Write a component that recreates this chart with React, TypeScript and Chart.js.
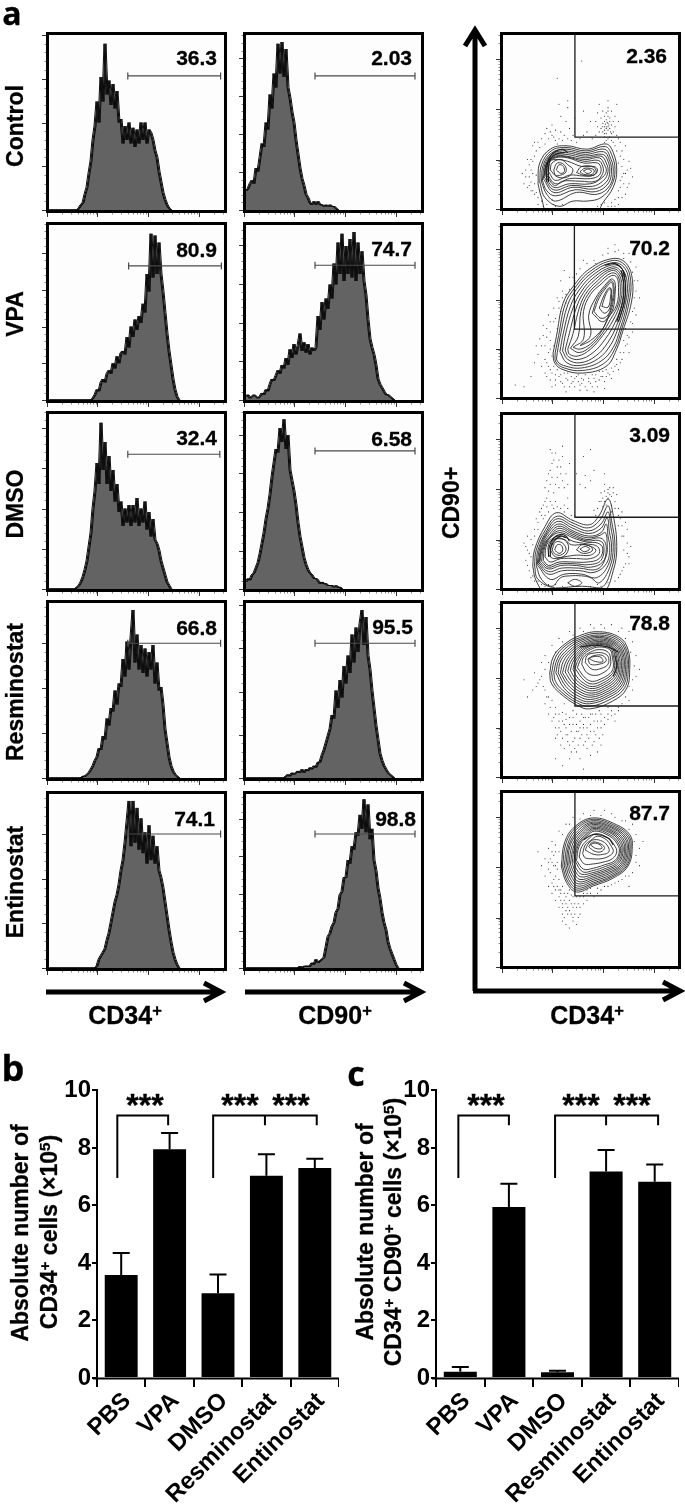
import React, { useEffect, useRef } from "react";
import { Chart, registerables } from "chart.js";

Chart.register(...registerables);
Chart.defaults.font.family = "'Liberation Sans', Arial, sans-serif";

// ---- Panel b / c values ----
const treatments = ["PBS", "VPA", "DMSO", "Resminostat", "Entinostat"];
const cd34Means = [3.58, 7.95, 2.95, 7.03, 7.3];
const cd34Upper = [4.35, 8.52, 3.6, 7.78, 7.62];
const doubleMeans = [0.22, 5.95, 0.2, 7.18, 6.82];
const doubleUpper = [0.38, 6.75, 0.25, 7.93, 7.42];
const yTicks = [0, 2, 4, 6, 8, 10];

// ---- Panel a histograms: percent of panel height per bin ----
const controlCd34 = [0,0,0,0,0,0,0,0,0,0,0,0,0,0,0,1,3,4,9,13,21,28,40,48,62,50,76,62,95,66,74,60,72,58,68,50,52,38,48,40,50,38,47,36,46,38,50,40,50,38,46,44,40,34,30,22,16,10,6,3,1,0];
const controlCd90 = [11,12,15,17,15,24,22,30,38,36,50,46,66,58,78,70,95,78,96,76,92,70,64,56,50,40,32,24,18,14,9,7,4,3,5,3,5,3,3,2,3,2,3,2,2,1,0];
const vpaCd34 = [0,0,0,0,0,0,0,0,0,0,0,0,0,0,0,0,0,0,0,0,0,0,1,3,6,5,10,12,10,15,17,15,21,18,25,21,27,28,26,36,30,42,36,46,40,48,44,55,50,72,62,95,70,94,72,90,72,62,50,38,28,20,12,6,2,0];
const vpaCd90 = [2,3,1,2,3,2,1,2,4,3,6,5,9,12,11,14,17,15,20,18,24,20,29,24,32,26,31,38,28,33,27,32,26,30,28,30,48,40,56,46,58,52,66,58,78,66,90,72,95,68,88,72,92,70,96,68,90,72,85,68,60,46,35,30,26,20,12,9,7,5,3,3,2,1,0];
const dmsoCd34 = [0,0,0,0,0,0,0,0,0,0,0,0,0,0,1,2,4,7,11,16,24,32,46,56,72,60,95,68,84,60,76,56,68,50,60,44,50,36,46,38,48,36,48,38,52,36,46,38,50,34,44,30,40,28,26,22,16,12,8,4,2,0];
const dmsoCd90 = [4,6,5,8,9,12,15,20,26,32,40,46,54,64,72,80,78,92,84,97,80,88,68,62,56,48,38,30,24,18,14,11,9,8,6,6,5,3,4,3,3,2,2,2,1,2,1,1,0];
const resCd34 = [0,0,0,0,0,0,0,0,0,0,0,0,0,0,0,0,0,1,1,2,3,5,7,10,12,17,16,24,22,34,30,40,38,50,42,54,52,68,58,78,62,80,96,66,82,62,76,60,74,58,72,62,76,54,66,50,52,42,28,20,12,7,4,2,1,0];
const resCd90 = [0,0,0,0,0,0,0,0,0,0,0,0,0,0,0,0,0,0,0,0,1,2,1,3,2,3,4,3,5,3,5,4,6,5,7,6,9,9,13,16,20,24,28,36,34,50,40,56,46,64,54,70,60,82,66,86,72,88,96,76,92,70,62,50,40,30,22,14,10,7,5,3,2,1,0];
const entCd34 = [0,0,0,0,0,0,0,0,0,0,0,0,0,0,0,0,0,0,0,0,0,0,0,0,1,5,7,9,11,16,20,26,32,38,42,48,56,62,72,84,96,70,96,72,92,68,86,66,78,60,82,62,76,60,70,56,52,46,38,30,22,15,9,5,2,0];
const entCd90 = [0,0,0,0,0,0,0,0,0,0,0,0,0,0,0,0,0,0,0,0,0,0,0,0,0,0,0,1,0,1,1,1,1,3,2,5,3,4,5,6,12,18,20,24,26,32,34,42,44,52,52,62,60,70,68,78,76,88,80,97,78,94,74,80,62,56,46,40,32,26,22,15,11,8,5,2,0];

const histValues = [controlCd34, controlCd90, vpaCd34, vpaCd90, dmsoCd34, dmsoCd90, resCd34, resCd90, entCd34, entCd90];
const histPercents = ["36.3", "2.03", "80.9", "74.7", "32.4", "6.58", "66.8", "95.5", "74.1", "98.8"];
const histYMajorStep = [25, 21.7, 21, 22.1, 23, 22, 25.7, 24.7, 25.7, 21.4];
const histGateStart = [39.4, 34.5, 39.8, 34.5, 39.4, 34.5, 39.4, 34.5, 39.4, 34.5];
const histGateEnd = [85.8, 84.5, 86.2, 84.5, 85.4, 84.5, 85.8, 84.5, 85.8, 84.5];
const histGateLevel = [76.6, 76.6, 76.6, 77, 77, 78.9, 77, 77, 77, 77];

// ---- Panel a contours: [x, y, x, y ...] in percent of panel ----
const controlContours = [
  [20,14, 21,26, 27,34, 36,36, 48,34, 59,37, 63,32, 65,22, 63,12, 57,3, 53,-3, 26,-3, 22,6],
  [21,15, 22,25, 27.5,33, 36,35, 47.5,33, 58.5,35.5, 62,31, 64,22, 62,13, 56,6, 48,4, 40,4, 32,1, 24,6],
  [22,15, 23,25, 28,32, 36,34, 47,32, 58,34, 61,30, 63,22, 61,13, 54,8, 42,9, 30,4, 25,8],
  [22.5,16, 24,25.5, 28.5,31.5, 36,33, 47,31, 57.5,32.5, 60.5,28.5, 62,21.5, 60,14, 53,9.5, 41,10.5, 30,7, 25,10],
  [23,17, 25,26, 29,31, 36,32, 47,30, 57,31, 60,27, 61,21, 59,15, 52,11, 40,12, 29,9],
  [23.5,18, 25,26, 29.5,30.5, 36,31, 47,29, 56,30, 59,26, 60,21, 57.5,16, 51,12.5, 39,13, 29,10.5],
  [24,19, 25,26, 30,30, 36,30, 47,28, 55,29, 58,25, 59,21, 56,17, 50,14, 38,14, 29,12],
  [24.5,19.5, 25.5,26, 30,29.5, 36.5,29.5, 46.5,27, 54.5,27.5, 57,24, 57,20, 53,15.5, 44,15.5, 34,15.5, 29.5,13],
  [25,20, 26,26, 30,29, 37,29, 46,26, 54,26, 56,23, 55,19, 50,17, 38,17, 30,14],
  [26,21, 27,27, 31,28, 37,27, 45,24, 52,24, 54,22, 52,19, 46,18.5, 38,19, 30,16],
  [27,22, 28,26, 33,28, 37,25, 40,22, 37,18, 31,18],
  [29,22, 31,26, 35,25, 36,21, 33,19, 30,19],
  [30.5,22, 32,25, 34.5,24, 35,21, 33,20],
  [42,20.5, 45,24, 52,23.5, 53,20, 48,18.5],
  [44,21, 47,23, 52,22, 51,19.5, 46,19.5],
  [46,21.5, 49,22.5, 50.5,21, 48,20],
];
const vpaContours = [
  [28.6,25.6, 30.5,35.3, 34.3,54.8, 40,64.5, 49.5,75, 63,81, 70.5,78, 74,68, 73.3,55, 68.6,39, 64.8,27.6, 59,18, 45.7,14, 34.3,16, 29.5,20],
  [29.8,25.8, 31.8,36, 35.6,54.5, 41,63.8, 49.8,73.5, 62.5,79.8, 69.8,77, 73,67.5, 72,55, 67.8,39.5, 64,28.3, 57.5,19.5, 45.3,15.5, 35,17, 30.2,20.5],
  [31,26, 33,37, 37,54, 42,63, 50,72, 62,78.5, 69,76, 72,67, 71,55, 67,40, 63,29, 56,21, 45,17, 36,18, 31,21],
  [32.5,26.5, 34.5,37.5, 38.5,53, 43.5,62.5, 51,71, 62,77.2, 68,75, 71,66.5, 70,55, 66,41, 61.5,30.5, 54.5,22.5, 44.5,18.5, 36.5,20],
  [34,27, 36,38, 40,52, 45,62, 52,70, 62,76, 67,74, 70,66, 69,55, 65,42, 60,32, 53,24, 44,20, 37,22],
  [35.5,27.5, 38,37.5, 41.5,51, 46,61, 53,69, 62,75, 66.5,73, 69,65.5, 68,55, 64,43.5, 58.5,34, 51.5,26, 43.5,22, 37.5,23.5],
  [37,28, 40,37, 43,50, 47,60, 54,68, 62,74, 66,72, 68,65, 67,55, 63,45, 57,36, 50,28, 43,24, 38,25],
  [38.5,28.5, 43,35.5, 44.5,50, 48.5,60, 55,67, 62,72.5, 65.5,71, 67,64.5, 66,54.5, 61.5,45.5, 56.5,37, 50,29.5, 43.5,26],
  [40,29, 46,34, 46,50, 50,60, 56,66, 62,71, 65,70, 66,64, 65,54, 60,46, 56,38, 50,31, 44,28],
  [44,30, 50,36, 49,48, 53,58, 58,65, 62,69, 64,67, 64,60, 63,52, 60,46, 57,40, 50,33],
  [51,49, 54,58, 58.5,64.5, 62,68, 63.5,64, 63,56, 61,49, 57,44],
  [52,50, 55,58, 59,64, 62,67, 63,62, 62,54, 60,48, 56,46],
  [55,52, 58,60, 61,64, 62,60, 61,52, 58,49],
  [56.5,53, 59,60.5, 61.5,63.5, 61.5,59, 60,52.5],
];
const dmsoContours = [
  [17,12.6, 18,22, 24,35.5, 30.5,43.5, 40,39, 49.5,36.6, 55,42, 60,51.5, 63,42, 65,24, 63,10, 57,-3, 45,-3, 25,-3, 19,4],
  [18,12.8, 19,22, 24.5,34, 31,41.5, 40,37.5, 49,34.8, 55.5,39.5, 60,47.5, 62,39, 64,24, 62,11, 56,0, 45,1, 30,0, 20,5],
  [19,13, 20,22, 25,33, 31,40, 40,36, 49,33, 56,37, 60,44, 61.5,36, 63,24, 61,12, 55,3, 50,6, 45,7, 38,7, 33,6, 28,1, 22,5],
  [19.5,13.5, 21,23, 25.5,32.5, 31.5,38.5, 40,34.5, 49,31.5, 56,34.5, 59.5,40.5, 60.7,33, 62,23.5, 60,13, 53.5,6, 45,8, 35,8, 27,5],
  [20,14, 22,24, 26,32, 32,37, 40,33, 49,30, 56,32, 59,37, 60,30, 61,23, 59,14, 52,9, 44,10, 34,10, 26,8],
  [20.5,14.5, 22.5,24, 26.5,31, 32,35.7, 40,32, 48.5,29, 55.5,30.5, 58.5,32, 59.5,26, 59,18.5, 54,11, 43,11.5, 33.5,11.5, 26,9.5],
  [21,15, 23,24, 27,30, 32,34.5, 40,31, 48,28, 55,29, 58,27, 59,22, 57,15, 50,12, 42,13, 33,13, 26,11],
  [22,15.5, 23.5,24, 27.5,30, 32.5,33.2, 40,30, 48,27.2, 54.5,27.5, 57.5,25, 56,16, 49,13.5, 41,14, 32.5,14, 26,12],
  [23,16, 24,24, 28,30, 33,32, 40,29, 48,26.5, 54,26, 57,23, 55,17, 48,15, 40,15, 32,15, 26,13],
  [24,18, 25,25, 29,29, 34,30, 40,27, 48,25.5, 54,24, 55,20, 50,17, 42,17, 33,17, 27,15],
  [26,19, 26,25, 29,28, 35,28, 39,25, 47,25, 53,22, 50,19, 42,19, 35,18, 29,17],
  [27,22, 29,28, 34,28.5, 37.5,24, 35,18.5, 30,18],
  [28,22, 30,26.5, 34,26, 36,22, 33,19, 30,19.5],
  [29.5,22, 31,25, 33.5,24.5, 34,21.5, 32,20],
  [42,22, 45,25, 50,24, 51,21.5, 46,20],
  [44,22.5, 47,24, 49.5,22.5, 46.5,21],
  [37,3, 41,5, 45,3, 41,1],
];
const resContours = [
  [26.7,59.8, 28.6,69, 34.3,75.9, 43.8,81.6, 55,83.9, 66.7,80.5, 71.4,73.6, 72.4,62, 70.5,50.6, 62.9,43.7, 49.5,39, 41.9,41.4, 32.4,48.3, 27.6,54],
  [27.8,60, 29.8,68.5, 35,75.2, 43.9,80.5, 55,83, 66,79.8, 70.7,73, 71.6,62, 69.5,51.3, 62,45, 49.5,40.5, 42,42.7, 33.2,49, 28.8,54.5],
  [29,60, 31,68, 36,74.5, 44,79.5, 55,82, 65.5,79, 70,72.5, 70.8,62, 68.5,52, 61,46, 49.5,42, 42,44, 34,50, 30,55],
  [30.2,60, 32,67.5, 37,73.7, 44.5,78.8, 55,81.2, 65,78.2, 69.2,72, 70,62, 67.8,52.8, 60.5,47, 49.8,43.2, 42.5,45.2, 35,51],
  [31.5,60, 33,67, 38,73, 45,78, 55,80.5, 64.5,77.5, 68.5,71.5, 69.2,62, 67,53.5, 60,48, 50,44.5, 43,46.5, 36,52],
  [32.8,60, 34.5,66.7, 39,72.5, 45.5,77.2, 55,79.7, 64,77, 67.8,71.2, 68.4,62, 66.2,54.3, 59.5,49, 50.2,45.8, 43.5,47.8, 37,53],
  [34,60, 36,66.5, 40,72, 46,76.5, 55,79, 63.5,76.5, 67,71, 67.6,62, 65.5,55, 59,50, 50.5,47, 44,49, 38,54],
  [35.5,60.5, 37.2,66.2, 41,71.5, 46.5,76, 55,78.2, 63,76, 66.2,70.5, 66.8,62, 64.8,55.8, 58.5,51, 50.8,48.2, 44.5,50.2, 39,55],
  [37,61, 38.5,66, 42,71, 47,75.5, 55,77.5, 62.5,75.5, 65.5,70, 66,62, 64,56.5, 58,52, 51,49.5, 45,51.5, 40,56],
  [38.5,61.5, 39.8,66, 43,70.7, 47.5,75, 55,77, 62.2,75, 64.8,69.8, 65.2,62, 63.2,57.2, 57.5,53, 51,50.8, 45.5,52.8, 41,57],
  [40,62, 41,66, 44,70.5, 48,74.5, 55,76.5, 62,74.5, 64,69.5, 64.5,62, 62.5,58, 57,54, 51,52, 46,54, 42,58],
  [41.2,62.5, 42.5,66.5, 45,70.6, 49,74, 55,75.7, 61.5,74, 63.2,69.2, 63.7,62.5, 61.8,58.8, 56.5,55.2, 51,53.5, 46.5,55.5],
  [42.5,63, 44,67, 46,70.5, 50,73.5, 55,75, 61,73.5, 62.5,69, 63,63, 61,59.5, 56,56.5, 51,55, 47,57],
  [45,65, 46,69, 50,72, 55,73.5, 60,72, 61.5,68, 61,63.5, 58,60.5, 53,58.5, 48,60],
  [47,66, 48,70, 52,71.5, 57,71.5, 60,69.5, 60,65, 56,62.5, 51,62],
  [48.5,68, 52,70, 57,70, 59,67, 55,65, 50,65],
  [49,68.3, 52,69.5, 56,69, 57,66.5, 53,66.5],
];
const entContours = [
  [33.3,57.7, 35.2,71.4, 41,80.5, 51.4,85.6, 64.8,81.7, 72.4,76, 73.9,69, 71.4,57.7, 62.9,50.8, 51.4,46.2, 41.9,42.8, 36.2,48.5],
  [34.1,57.8, 36,71, 41.5,79.8, 51.4,84.8, 64.4,81, 71.7,75.5, 73.2,68.8, 70.7,57.8, 62.4,51.4, 51.4,47.1, 42.2,43.9, 36.8,49.2],
  [35,58, 37,70.5, 42,79, 51.5,84, 64,80.3, 71,75, 72.5,68.5, 70,58, 62,52, 51.5,48, 42.5,45, 37.5,50],
  [35.9,58, 37.8,70.2, 42.8,78.2, 51.5,83.2, 63.7,79.6, 70.2,74.5, 71.7,68.2, 69.2,58.2, 61.5,52.7, 51.5,49, 42.8,46.2, 38.2,51],
  [36.8,58, 38.5,70, 43.5,77.5, 51.5,82.5, 63.5,79, 69.5,74, 71,68, 68.5,58.5, 61,53.5, 51.5,50, 43,47.5, 39,52],
  [37.6,58.5, 39.5,69.7, 44.2,77, 51.7,81.8, 63.2,78.2, 68.7,73.5, 70.2,67.7, 67.7,58.7, 60.5,54.2, 51.5,51, 43.5,48.7, 39.7,53],
  [38.5,59, 40.5,69.5, 45,76.5, 52,81, 63,77.5, 68,73, 69.5,67.5, 67,59, 60,55, 51.5,52, 44,50, 40.5,54],
  [39.5,59.5, 41.2,69.2, 45.7,76, 52,80.2, 62.5,77, 67.2,72.5, 68.7,67.2, 66.2,59.5, 59.5,55.7, 51.5,53, 44.5,51.5, 41.2,55],
  [40.5,60, 42,69, 46.5,75.5, 52,79.5, 62,76.5, 66.5,72, 68,67, 65.5,60, 59,56.5, 51.5,54, 45,53, 42,56],
  [41.2,60.5, 42.7,69, 47,75, 52.2,78.8, 61.5,75.7, 65.7,71.5, 67.2,66.7, 64.7,60.5, 58.5,57.5, 51.5,55.2, 45.5,54.5],
  [42,61, 43.5,69, 47.5,74.5, 52.5,78, 61,75, 65,71, 66.5,66.5, 64,61, 58,58.5, 51.5,56.5, 46,56],
  [43.5,63, 45,69, 49,73.5, 53,76.5, 60,74, 63.5,70, 65,66, 62.5,62, 57,60, 51.5,59, 46.5,59],
  [45.5,65, 47,70, 50,72.5, 54,75, 59,73, 62,69, 63,66, 60.5,63.5, 56,62, 51,62, 47,62.5],
  [47,67, 49,71, 52,73, 57,72, 60,69, 60.5,66, 57,64.5, 52,64.5],
  [49,69, 51,71.5, 55,71, 58,68.5, 56,66, 52,66.5],
  [50,70, 52,71, 55.5,70, 56.5,68, 53,68],
];

// darker arcs of the crowded contour bands
const controlArcs = [[25,15, 25,23, 26,28, 29,32, 34,34, 37,32], [26,15, 26,23, 27,28, 30,31, 35,32]];
const vpaArcs = [[68.5,74, 70,66, 69.5,56, 66,44], [67.5,74, 69,66, 68.5,56, 65,44], [58,77, 64,78, 68,75, 70,70]];
const dmsoArcs = [[26,18, 26.5,24, 29,29, 33,31, 36,30, 38,27], [27,18, 27.5,24, 30,28, 33,30, 36,29]];
const resArcs = [[44,75, 52,76, 60,75, 66,72], [64,70, 65,64, 63,58]];
const entArcs = [[46,73, 52,76, 60,74, 63,70]];

// ---- Panel a scatter dots: [x, y, x, y ...] ----
const controlDots = [59,47,60,45,58,50,61,52,57,44,62,48,59,55,60,58,56,52,63,44,58,41,61,41,59,39,62,56,54,47,57,56,60,62,64,53,53,42,65,60,55,60,58,47,60,49,59,43,61,46,58,45,60,53,59,51,57,47,62,43,60,47,58.5,48.5,59.5,49.5,61,50,58,43,32,40,28,48,30,45,35,42,26,40,33,53,38,46,36,50,24,43,31,37,40,42,44,40,48,44,50,50,46,56,37,62,31,75,45,85,15,25,17,20,18,30,16,15,14,12,19,9,20,6,22,4,13,22,12,14,18,38,21,35,67,30,68,24,70,20,69,14,72,27,66,10,71,12,68,6,74,18,67,38,70,36,64,5,66,2,62,3,25,2,28,5,30,1,60,1,58,3,34,2,17,10,15,18,18,14,16,28,66,26,68,18,65,33,69,28,71,22,24,37,27,44,29,41,34,39,39,39,
  60.5,48,59,46,58,53,60,56,61.5,44,57,49,56,46,63,50,64,47,55,44,53,50,54,55,62,39,65,42,66,50,58,38,60,40,63,38,16,22,17,27,15,13,18,8,19,19,16,10,19,33,17,36,20,38,22,40,25,46,28,42,30,39,33,44,37,40,42,38,46,42,51,40,67,16,69,20,66,6,70,8,67,12,72,14,73,23,68,33,64,36,66,40,62,1,64,1,56,2,54,1,29,2,23,1,20,2,14,28,13,18,11,20,37,58,32,60,41,52];
const vpaDots = [22,30,24,22,25,35,23,42,26,48,27,38,29,52,30,46,32,56,34,62,36,60,38,70,33,68,35,74,27,28,26,18,28,14,30,10,32,12,34,8,36,11,38,6,40,9,42,12,44,7,46,10,48,4,50,8,52,11,54,6,56,12,58,9,60,14,62,11,64,18,66,16,68,22,70,30,72,26,74,38,76,48,78,58,77,68,76,76,72,84,66,86,60,84,64,89,69,84,52,80,46,80,42,72,40,70,36,55,31,40,29,30,20,25,18,20,16,12,31,16,33,13,35,14,37,14,39,12,41,11,43,13,45,11,47,13,49,11,51,13,53,13,55,15,57,15,59,16,25,12,28,24,27,33,31,58,33,50,75,58,74,50,73,44,71,36,70,40,69,33,67,26,65,22,63,15,12,6,7,7,
  24,30,26,26,25,20,27,16,29,18,30,13,27,10,33,9,35,6,37,10,39,8,41,6,43,9,45,8,47,6,49,9,51,6,53,9,55,10,57,12,59,12,61,13,62,17,65,19,67,20,69,26,71,31,72,35,74,43,75,52,76,62,75,68,74,73,73,79,69,81,64,85,60,87,57,83,53,78,48,78,44,75,41,68,38,63,34,58,32,52,29,44,27,44,25,40,23,36,21,34,19,30,22,18,24,14,36,3,44,4,52,3,58,5,30,7,28,6];
const dmsoDots = [24,58,26,66,28,72,30,78,32,74,27,60,29,55,31,64,33,70,25,52,28,48,30,50,32,58,34,62,36,66,26,44,24,42,22,46,35,48,37,52,27,80,34,82,38,72,44,60,47,65,50,62,52,45,56,55,58,56,60,55,62,53,64,50,66,46,68,44,58,60,60,52,61,58,63,55,57,52,62,48,59,48,55,50,20,38,18,34,16,28,14,22,13,16,15,10,17,7,20,4,22,2,30,2,66,36,68,30,69,22,71,26,70,14,67,8,64,4,60,3,56,1,72,18,73,24,70,38,69,12,14,30,12,26,19,40,21,44,23,40,46,76,50,80,58,66,24,30,
  25,62,27,68,29,74,31,70,33,66,35,58,37,60,28,64,30,60,26,56,24,50,23,48,22,42,25,47,27,50,29,46,31,47,33,46,35,44,37,46,39,42,41,42,64,46,62,44,66,42,67,40,60,57,61,54,59,53,63,58,65,54,56,50,58,50,57,47,54,46,53,42,20,34,18,30,17,25,15,20,14,13,16,6,18,4,24,1,26,2,34,1,40,1,50,1,54,2,66,6,68,10,71,20,72,14,69,30,68,36,71,34,16,18,13,24,34,76,28,78,42,66,52,68,47,58];
const resDots = [22,58,20,54,18,60,24,50,26,46,28,44,30,40,32,36,34,32,36,28,38,34,40,30,42,26,44,32,46,28,48,24,50,30,52,26,54,32,56,28,58,34,60,36,62,38,64,32,66,38,68,42,70,46,72,44,74,50,76,58,78,62,76,70,74,78,72,84,68,86,62,88,56,88,50,88,44,86,38,84,32,80,28,76,24,70,22,66,36,24,40,20,44,22,48,16,52,20,46,18,38,18,34,22,30,28,28,32,32,28,26,36,42,36,36,36,50,36,56,36,60,40,46,34,40,38,35,42,17,50,14,46,12,56,30,10,46,4,34,6,42,14,56,18,50,12,24,42,30,22,38,10,44,10,54,14,
  30,36,32,32,34,37,36,33,38,30,40,34,42,30,44,28,46,30,48,28,50,26,52,32,54,28,56,32,58,30,60,33,62,35,64,36,66,40,33,26,35,30,37,24,39,26,41,22,43,18,45,24,47,20,49,22,51,18,53,24,55,22,57,24,31,24,29,34,27,40,25,46,23,52,21,56,19,52,33,18,35,16,37,20,39,14,41,16,43,26,45,36,47,34,49,34,51,36,53,36,55,38,72,52,74,56,75,64,73,72,70,80,66,84,58,86,52,86,46,84,40,82,34,78,30,72,26,66,24,62];
const entDots = [28,60,26,56,24,62,30,52,28,48,30,44,32,40,34,36,36,32,38,38,40,28,42,34,44,40,46,36,48,38,50,42,52,40,54,42,56,44,60,46,64,48,68,50,72,52,76,60,78,68,76,76,74,82,70,84,64,86,58,90,52,90,46,88,40,86,36,82,32,78,28,72,26,68,30,66,36,24,34,26,38,22,42,24,44,30,32,34,30,38,28,42,26,46,34,30,40,34,46,42,24,52,22,58,20,66,36,40,33,44,39,41,31,60,29,64,48,44,72,46,78,58,80,72,
  27,54,29,50,31,46,33,42,35,38,37,34,39,30,41,30,43,36,31,56,29,58,27,62,30,58,32,50,34,46,32,44,35,42,37,42,38,44,40,40,36,36,38,32,40,26,43,28,41,36,44,34,46,40,48,42,50,45,54,45,58,46,62,47,66,49,70,52,74,54,76,64,75,72,72,79,68,84,62,88,56,87,50,87,44,85,38,82,34,76,30,70,28,66,34,34,33,38,29,46,35,28,37,30,26,60,32,66,39,36,42,40];

const contourSets = [controlContours, vpaContours, dmsoContours, resContours, entContours];
const arcSets = [controlArcs, vpaArcs, dmsoArcs, resArcs, entArcs];
const dotSets = [controlDots, vpaDots, dmsoDots, resDots, entDots];
const contourPercents = ["2.36", "70.2", "3.09", "78.8", "87.7"];
const contourGateX = [41.1, 40.8, 41.1, 41.1, 41.1];
const contourGateY = [41, 39.7, 40.9, 40.7, 40.5];

const rowLabels = ["Control", "VPA", "DMSO", "Resminostat", "Entinostat"];
const logOffsets = [0.301, 0.477, 0.602, 0.699, 0.778, 0.845, 0.903, 0.954];

// ---- layout ----
const histRows = [[35, 175], [225, 175], [414, 175], [603, 175], [794, 174]];
const contourRows = [[35, 173], [226, 171], [415, 173], [604, 172], [793, 173]];
const histCols = [49, 246];
const contourCol = 503;
const panelW = 175;
const PAD = { left: 10, top: 4, right: 4, bottom: 10 };

const toPoints = (flat: number[]) => {
  const out: { x: number; y: number }[] = [];
  for (let i = 0; i + 1 < flat.length; i += 2) out.push({ x: flat[i], y: flat[i + 1] });
  return out;
};

type FacsExtras = {
  xMajors: number[];
  xDecade: number;
  yTickFn: (draw: (v: number, major: boolean) => void) => void;
  gate: (ctx: CanvasRenderingContext2D, x: any, y: any, a: any) => void;
};

const facsPlugin = (e: FacsExtras) => ({
  id: "facsFrame",
  beforeDraw(chart: any) {
    const { ctx, chartArea: a } = chart;
    ctx.save();
    ctx.fillStyle = "#fdfdfd";
    ctx.fillRect(a.left, a.top, a.right - a.left, a.bottom - a.top);
    ctx.restore();
  },
  afterDraw(chart: any) {
    const { ctx, chartArea: a, scales } = chart;
    const x = scales.x;
    const y = scales.y;
    ctx.save();
    const tickX = (v: number, major: boolean) => {
      const p = Math.round(x.getPixelForValue(v)) + 0.5;
      if (p > a.right + 2) return;
      ctx.strokeStyle = major ? "#333" : "#8a8a8a";
      ctx.lineWidth = 1;
      ctx.beginPath();
      ctx.moveTo(p, a.bottom + 1);
      ctx.lineTo(p, a.bottom + (major ? 7 : 4.5));
      ctx.stroke();
    };
    e.xMajors.forEach((m) => {
      tickX(m, true);
      logOffsets.forEach((o) => tickX(m + o * e.xDecade, false));
    });
    const tickY = (v: number, major: boolean) => {
      const p = Math.round(y.getPixelForValue(v)) + 0.5;
      if (p < a.top - 2) return;
      ctx.strokeStyle = major ? "#333" : "#8a8a8a";
      ctx.lineWidth = 1;
      ctx.beginPath();
      ctx.moveTo(a.left - 1, p);
      ctx.lineTo(a.left - (major ? 7 : 4.5), p);
      ctx.stroke();
    };
    e.yTickFn(tickY);
    e.gate(ctx, x, y, a);
    ctx.strokeStyle = "#000";
    ctx.lineWidth = 3;
    ctx.strokeRect(a.left - 1.5, a.top - 1.5, a.right - a.left + 3, a.bottom - a.top + 3);
    ctx.restore();
  },
});

function useChart(make: (c: HTMLCanvasElement) => Chart) {
  const ref = useRef<HTMLCanvasElement | null>(null);
  useEffect(() => {
    const chart = make(ref.current as HTMLCanvasElement);
    return () => chart.destroy();
  }, []);
  return ref;
}

function canvasStyle(left: number, top: number, w: number, h: number): React.CSSProperties {
  return { position: "absolute", left, top, width: w, height: h, display: "block" };
}

const baseOptions = (xMax: number) => ({
  responsive: false,
  animation: false as const,
  layout: { padding: PAD },
  plugins: { legend: { display: false }, tooltip: { enabled: false } },
  scales: {
    x: { type: "linear" as const, display: false, min: 0, max: xMax },
    y: { type: "linear" as const, display: false, min: 0, max: 100 },
  },
});

function Histogram({ index }: { index: number }) {
  const col = index % 2;
  const row = Math.floor(index / 2);
  const [top, h] = histRows[row];
  const left = histCols[col];
  const w = panelW + PAD.left + PAD.right;
  const ch = h + PAD.top + PAD.bottom;
  const ref = useChart((c) => {
    const step = histYMajorStep[index];
    const values = histValues[index];
    // the same counts drawn a half bin either side: thickens the jagged trace into its dark band
    const trace = (shift: number) => ({
      data: values.map((v, i) => ({ x: i + shift, y: v })),
      borderColor: "#0c0c0c",
      borderWidth: 1,
      backgroundColor: "transparent",
      fill: false,
      pointRadius: 0,
      tension: 0,
    });
    return new Chart(c, {
      type: "line",
      data: {
        labels: values.map((_, i) => i),
        datasets: [
          trace(-0.5),
          trace(0.5),
          {
            data: values.map((v, i) => ({ x: i, y: v })),
            borderColor: "#0c0c0c",
            borderWidth: 1,
            backgroundColor: "#636363",
            fill: "origin",
            pointRadius: 0,
            tension: 0,
          },
        ],
      },
      options: baseOptions(87.5) as any,
      plugins: [
        facsPlugin({
          xMajors: [-1, 23.9, 49.5, 75],
          xDecade: 25.6,
          yTickFn: (draw) => {
            for (let k = 0; k * step <= 100.5; k++) {
              draw(k * step, true);
              for (let m = 1; m < 5; m++) draw(k * step + (m * step) / 5, false);
            }
          },
          gate: (ctx, x, y) => {
            const g = y.getPixelForValue(histGateLevel[index]);
            const x0 = x.getPixelForValue(histGateStart[index]);
            const x1 = x.getPixelForValue(histGateEnd[index]);
            ctx.strokeStyle = "#4a4a4a";
            ctx.lineWidth = 1.2;
            ctx.beginPath();
            ctx.moveTo(x0, g);
            ctx.lineTo(x1, g);
            ctx.moveTo(x0, g - 3.5);
            ctx.lineTo(x0, g + 3.5);
            ctx.moveTo(x1, g - 3.5);
            ctx.lineTo(x1, g + 3.5);
            ctx.stroke();
          },
        }) as any,
      ],
    });
  });
  return <canvas ref={ref} width={w} height={ch} style={canvasStyle(left - PAD.left, top - PAD.top, w, ch)} />;
}

function ContourPanel({ index }: { index: number }) {
  const [top, h] = contourRows[index];
  const w = panelW + PAD.left + PAD.right;
  const ch = h + PAD.top + PAD.bottom;
  const ref = useChart((c) => {
    const lines = contourSets[index].map((flat) => {
      const pts = toPoints(flat);
      return {
        data: [...pts, pts[0]],
        showLine: true,
        borderColor: "#2a2a2a",
        borderWidth: 0.9,
        pointRadius: 0,
        tension: 0.4,
        fill: false,
      };
    });
    const arcs = arcSets[index].map((flat) => ({
      data: toPoints(flat),
      showLine: true,
      borderColor: "#1a1a1a",
      borderWidth: 1.1,
      pointRadius: 0,
      tension: 0.4,
      fill: false,
    }));
    return new Chart(c, {
      type: "scatter",
      data: {
        datasets: [
          ...arcs,
          ...lines,
          {
            data: toPoints(dotSets[index]),
            showLine: false,
            pointRadius: 0.55,
            pointBorderWidth: 0,
            backgroundColor: "#2c2c2c",
          },
        ] as any,
      },
      options: baseOptions(100) as any,
      plugins: [
        facsPlugin({
          xMajors: [-0.6, 27.8, 57, 86.3],
          xDecade: 29.2,
          yTickFn: (draw) => {
            [-0.6, 27.8, 57, 86.3].forEach((m) => {
              draw(m, true);
              logOffsets.forEach((o) => draw(m + o * 29.2, false));
            });
          },
          gate: (ctx, x, y, a) => {
            const gx = x.getPixelForValue(contourGateX[index]);
            const gy = y.getPixelForValue(contourGateY[index]);
            ctx.strokeStyle = "#1a1a1a";
            ctx.lineWidth = 1.3;
            ctx.beginPath();
            ctx.moveTo(gx, a.top);
            ctx.lineTo(gx, gy);
            ctx.lineTo(a.right, gy);
            ctx.stroke();
          },
        }) as any,
      ],
    });
  });
  return <canvas ref={ref} width={w} height={ch} style={canvasStyle(contourCol - PAD.left, top - PAD.top, w, ch)} />;
}

type Bracket = { left: number; right: number; mid?: number };

function BarPanel(props: { left: number; width: number; means: number[]; upper: number[]; brackets: Bracket[]; plotLeft: number }) {
  const { left, width, means, upper, brackets, plotLeft } = props;
  const top = 1075;
  const height = 1511 - top;
  const ref = useChart((c) =>
    new Chart(c, {
      type: "bar",
      data: {
        labels: treatments,
        datasets: [{ data: means, backgroundColor: "#000", barPercentage: 0.68, categoryPercentage: 1 }],
      },
      options: {
        responsive: false,
        animation: false,
        layout: { padding: { top: 1089 - top, right: 0, left: 0, bottom: 0 } },
        plugins: { legend: { display: false }, tooltip: { enabled: false } },
        scales: {
          x: {
            type: "category",
            afterFit: (s: any) => {
              s.height = 1511 - 1378;
            },
            border: { display: false },
            grid: { drawOnChartArea: false, tickLength: 9, lineWidth: 2, color: "#000" },
            ticks: {
              minRotation: 45,
              maxRotation: 45,
              color: "#000",
              padding: 0,
              labelOffset: 6,
              font: { size: 24, weight: "bold" },
            },
          },
          y: {
            type: "linear",
            min: 0,
            max: 10,
            afterFit: (s: any) => {
              s.width = plotLeft - left;
            },
            afterBuildTicks: (s: any) => {
              s.ticks = yTicks.map((value) => ({ value }));
            },
            border: { display: true, color: "#000", width: 2 },
            grid: { drawOnChartArea: false, tickLength: 5, lineWidth: 2, color: "#000" },
            ticks: { color: "#000", padding: 1, font: { size: 24, weight: "bold" } },
          },
        },
      } as any,
      plugins: [
        {
          id: "errAndBrackets",
          afterDatasetsDraw(chart: any) {
            const { ctx, scales, chartArea: a } = chart;
            const x = scales.x;
            const y = scales.y;
            ctx.save();
            ctx.strokeStyle = "#000";
            ctx.lineWidth = 2;
            means.forEach((m, i) => {
              const px = x.getPixelForValue(i);
              const y0 = y.getPixelForValue(m);
              const y1 = y.getPixelForValue(upper[i]);
              ctx.beginPath();
              ctx.moveTo(px, y0);
              ctx.lineTo(px, y1);
              ctx.moveTo(px - 8.5, y1);
              ctx.lineTo(px + 8.5, y1);
              ctx.stroke();
            });
            ctx.beginPath();
            ctx.moveTo(a.left - 4, a.bottom + 0.5);
            ctx.lineTo(a.right, a.bottom + 0.5);
            ctx.stroke();
            const topY = y.getPixelForValue(9.13);
            const lowY = y.getPixelForValue(6.95);
            const tickY = y.getPixelForValue(8.79);
            brackets.forEach((b) => {
              const l = x.getPixelForValue(b.left);
              const r = x.getPixelForValue(b.right);
              ctx.beginPath();
              ctx.moveTo(l, lowY);
              ctx.lineTo(l, topY);
              ctx.lineTo(r, topY);
              ctx.lineTo(r, tickY);
              if (b.mid !== undefined) {
                const mid = x.getPixelForValue(b.mid);
                ctx.moveTo(mid, topY);
                ctx.lineTo(mid, tickY);
              }
              ctx.stroke();
            });
            ctx.restore();
          },
        } as any,
      ],
    })
  );
  return <canvas ref={ref} width={width} height={height} style={canvasStyle(left, top, width, height)} />;
}

const BOLD = "'Liberation Sans', Arial, sans-serif";

function Txt(p: { x: number; y: number; size?: number; rot?: number; align?: "center" | "right"; font?: string; children: React.ReactNode }) {
  const { x, y, size = 23, rot = 0, align = "center", font = BOLD, children } = p;
  const tx = align === "center" ? "-50%" : "-100%";
  return (
    <div
      style={{
        position: "absolute",
        left: x,
        top: y,
        transform: `translate(${tx},-50%) rotate(${rot}deg)`,
        fontFamily: font,
        fontWeight: 700,
        fontSize: size,
        lineHeight: 1,
        whiteSpace: "nowrap",
        color: "#000",
        WebkitTextStroke: "0.3px #000",
      }}
    >
      {children}
    </div>
  );
}

const Sup = ({ children }: { children: React.ReactNode }) => (
  <sup style={{ fontSize: "66%", lineHeight: 0, verticalAlign: "baseline", position: "relative", top: "-0.46em" }}>{children}</sup>
);

function Arrows() {
  return (
    <svg width={685} height={1511} style={{ position: "absolute", left: 0, top: 0, pointerEvents: "none" }}>
      <g fill="none" stroke="#000" strokeWidth={5}>
        <path d="M46 992H220M204 983L221 992L204 1001" />
        <path d="M245 992H420M404 983L421 992L404 1001" />
        <path d="M475 991V31M465 46L475 30L485 46" />
        <path d="M473 991H679M663 982L680 991L663 1000" />
      </g>
    </svg>
  );
}

const histNumberRight = [217, 412, 217, 412, 217, 412, 217, 413, 215, 416];
const histNumberY = [57, 57, 249, 248, 437, 438, 627, 626, 818, 818];
const contourNumberRight = [667, 670, 670, 670, 670];
const contourNumberY = [55, 247, 434, 622, 812];
const rowLabelY = [126, 314, 504, 692, 882];

const bracketsB: Bracket[] = [
  { left: -0.08, right: 0.97 },
  { left: 1.9, right: 4.04, mid: 2.97 },
];
const bracketsC: Bracket[] = [
  { left: -0.04, right: 1.0 },
  { left: 1.95, right: 4.07, mid: 3.0 },
];

export default function App() {
  return (
    <div style={{ position: "absolute", left: 0, top: 0, width: 685, height: 1511, background: "#fff", overflow: "hidden" }}>
      {histValues.map((_, i) => (
        <Histogram key={i} index={i} />
      ))}
      {contourSets.map((_, i) => (
        <ContourPanel key={i} index={i} />
      ))}
      <BarPanel left={40} width={299} means={cd34Means} upper={cd34Upper} brackets={bracketsB} plotLeft={97} />
      <BarPanel left={380} width={299} means={doubleMeans} upper={doubleUpper} brackets={bracketsC} plotLeft={436} />
      <Arrows />

      <Txt x={12} y={13} size={32} font="'Open Sans', sans-serif">a</Txt>
      <Txt x={13} y={1068} size={36} font="'Open Sans', sans-serif">b</Txt>
      <Txt x={356} y={1073} size={34} font="'Open Sans', sans-serif">c</Txt>

      {rowLabels.map((t, i) => (
        <Txt key={t} x={15} y={rowLabelY[i]} rot={-90}>{t}</Txt>
      ))}
      {histPercents.map((t, i) => (
        <Txt key={i} x={histNumberRight[i]} y={histNumberY[i]} size={21} align="right">{t}</Txt>
      ))}
      {contourPercents.map((t, i) => (
        <Txt key={i} x={contourNumberRight[i]} y={contourNumberY[i]} size={21} align="right">{t}</Txt>
      ))}

      <Txt x={125} y={1015} size={25}>CD34<Sup>+</Sup></Txt>
      <Txt x={335} y={1015} size={25}>CD90<Sup>+</Sup></Txt>
      <Txt x={587} y={1015} size={25}>CD34<Sup>+</Sup></Txt>
      <Txt x={451} y={503} rot={-90}>CD90+</Txt>

      <Txt x={20} y={1233} rot={-90}>Absolute number of</Txt>
      <Txt x={49} y={1232} rot={-90}>CD34<Sup>+</Sup> cells (×10<Sup>5</Sup>)</Txt>
      <Txt x={365} y={1232} rot={-90}>Absolute number of</Txt>
      <Txt x={393} y={1232} rot={-90}>CD34<Sup>+</Sup> CD90<Sup>+</Sup> cells (×10<Sup>5</Sup>)</Txt>

      <Txt x={145} y={1105} size={32}>***</Txt>
      <Txt x={240} y={1105} size={32}>***</Txt>
      <Txt x={291} y={1105} size={32}>***</Txt>
      <Txt x={486} y={1105} size={32}>***</Txt>
      <Txt x={581} y={1105} size={32}>***</Txt>
      <Txt x={632} y={1105} size={32}>***</Txt>
    </div>
  );
}
